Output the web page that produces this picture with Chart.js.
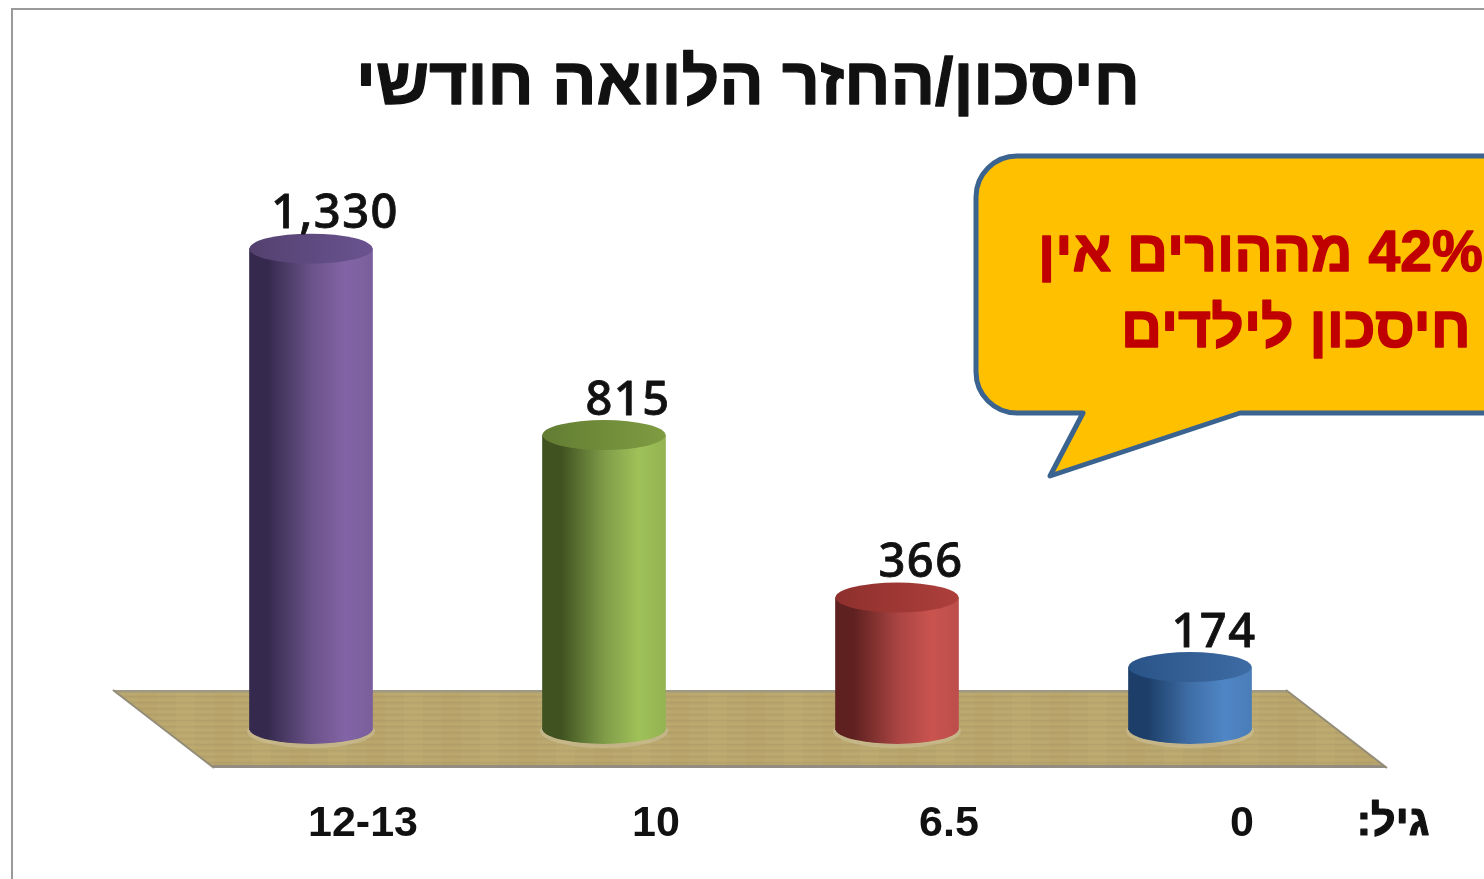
<!DOCTYPE html>
<html lang="he"><head><meta charset="utf-8">
<style>html,body{margin:0;padding:0;background:#fff;overflow:hidden}#w{width:1484px;height:879px;position:relative}</style>
<script src="https://cdn.jsdelivr.net/npm/chart.js@4/dist/chart.umd.min.js"></script>
</head><body><div id="w"><canvas id="c" width="1484" height="879"></canvas></div>
<script>
const titleText = "חיסכון/החזר הלוואה חודשי";
const categories = ["12-13", "10", "6.5", "0"];
const savings = [1330, 815, 366, 174];
const valueLabels = ["1,330", "815", "366", "174"];
const axisCaption = "גיל:";
const calloutLines = ["42% מההורים אין", "חיסכון לילדים"];
const shades = [
  {dark:"#352a4e", mid:"#6a5288", light:"#8264a6", end:"#7a5f9c", top1:"#54416f", top2:"#6a5390"},
  {dark:"#3f5220", mid:"#7f9b48", light:"#9fc158", end:"#94b353", top1:"#627d32", top2:"#7f9c42"},
  {dark:"#5f2120", mid:"#a84442", light:"#c9534f", end:"#bd4e4b", top1:"#8e302d", top2:"#ad3f3b"},
  {dark:"#1c3e68", mid:"#3f6ea6", light:"#4f86c6", end:"#4a7db8", top1:"#2a5488", top2:"#3d6ba3"}
];
const FONT = "'Liberation Sans', Arial, sans-serif";
const RY = 15;

function barGradient(chart, i){
  const x = chart.scales.x ? chart.scales.x.getPixelForValue(i) : NaN, hw = 61.5;
  const s = shades[i];
  if(!isFinite(x)) return s.mid;
  const g = chart.ctx.createLinearGradient(x-hw,0,x+hw,0);
  g.addColorStop(0,s.dark); g.addColorStop(0.15,s.dark); g.addColorStop(0.5,s.mid);
  g.addColorStop(0.78,s.light); g.addColorStop(1,s.end);
  return g;
}

function heavyText(c, text, x, y, w){
  c.lineWidth = w; c.lineJoin = "round"; c.strokeStyle = c.fillStyle;
  c.strokeText(text, x, y); c.fillText(text, x, y);
}

const scenery = {
  id:"scenery",
  afterLayout(chart){
    if(chart.titleBlock){ chart.titleBlock.left -= 2.5; chart.titleBlock.right -= 2.5; }
  },
  beforeDraw(chart){
    const c = chart.ctx;
    c.save();
    c.fillStyle="#fff"; c.fillRect(0,0,1484,879);
    c.strokeStyle="#9a9a9a"; c.lineWidth=2;
    c.beginPath(); c.moveTo(12,880); c.lineTo(12,9); c.lineTo(1490,9); c.stroke();
    // floor
    c.beginPath(); c.moveTo(113,690); c.lineTo(1286,690); c.lineTo(1387,768); c.lineTo(214,768); c.closePath();
    c.fillStyle="#b8a66e"; c.fill();
    c.save(); c.clip();
    for(let y=690;y<768;y+=3){ c.fillStyle = (y%2)?"rgba(200,180,110,.28)":"rgba(150,125,85,.16)"; c.fillRect(100,y,1300,1.5); }
    for(let x=100;x<1400;x+=38){ c.fillStyle = (x%4)?"rgba(190,150,90,.10)":"rgba(215,200,130,.10)"; c.fillRect(x,690,19,78); }
    c.fillStyle="#a09a84"; c.fillRect(100,690,1300,2.5);
    c.fillStyle="#938c80"; c.fillRect(100,765,1300,3);
    c.restore();
    c.strokeStyle="#938c78"; c.lineWidth=2;
    c.beginPath(); c.moveTo(113,690); c.lineTo(214,768); c.moveTo(1286,690); c.lineTo(1387,768); c.stroke();
    c.restore();
  },
  beforeDatasetsDraw(chart){
    const c = chart.ctx, m = chart.getDatasetMeta(0);
    c.save();
    m.data.forEach((b,i)=>{
      c.beginPath(); c.ellipse(b.x, b.base+1, 64, RY+2, 0, 0, 7);
      c.fillStyle="rgba(215,205,175,.4)"; c.fill();
      c.beginPath(); c.ellipse(b.x, b.base-1, 61.5, RY, 0, 0, 7);
      c.fillStyle=barGradient(chart,i); c.fill();
    });
    c.restore();
  },
  afterDatasetsDraw(chart){
    const c = chart.ctx, m = chart.getDatasetMeta(0);
    c.save();
    m.data.forEach((b,i)=>{
      const s = shades[i];
      const g = c.createLinearGradient(b.x-61,0,b.x+61,0);
      g.addColorStop(0,s.top1); g.addColorStop(1,s.top2);
      c.beginPath(); c.ellipse(b.x, b.y, 61.5, RY, 0, 0, 7);
      c.fillStyle=g; c.fill();
      c.fillStyle="#111"; c.font="500 47px 'Noto Sans', "+FONT;
      c.letterSpacing="1.5px";
      c.textAlign="center"; c.textBaseline="alphabetic";
      heavyText(c, valueLabels[i], b.x+24, b.y-20.5, 0.8);
      c.letterSpacing="0px";
    });
    // axis caption
    c.direction="rtl"; c.textAlign="center";
    c.fillStyle="#111"; c.font="bold 43px "+FONT;
    heavyText(c, axisCaption, 1393, 835, 1.2);
    c.direction="ltr";
    // callout
    const L=976,T=156,B=413,R=1560,r=41;
    c.beginPath();
    c.moveTo(L+r,T); c.lineTo(R,T); c.lineTo(R,B); c.lineTo(1240,B); c.lineTo(1050,476); c.lineTo(1083,B);
    c.lineTo(L+r,B); c.arcTo(L,B,L,B-r,r); c.lineTo(L,T+r); c.arcTo(L,T,L+r,T,r); c.closePath();
    c.fillStyle="#FFC000"; c.fill();
    c.strokeStyle="#3B6390"; c.lineWidth=5; c.lineJoin="round"; c.stroke();
    c.fillStyle="#C00000"; c.font="bold 57px "+FONT; c.direction="rtl"; c.textAlign="left";
    heavyText(c, calloutLines[0], 1038, 271, 1.4);
    heavyText(c, calloutLines[1], 1121, 347, 1.4);
    c.restore();
  },
  afterDraw(chart){
    const c = chart.ctx, t = chart.titleBlock;
    c.save();
    c.font="bold 66px "+FONT; c.textAlign="center"; c.textBaseline="middle";
    c.strokeStyle="#111"; c.lineWidth=1.3; c.lineJoin="round";
    c.strokeText(titleText, (t.left+t.right)/2, t.top+46+39.6);
    c.restore();
  }
};

new Chart(document.getElementById("c"),{
  type:"bar",
  data:{labels:categories,datasets:[{
    data:savings,
    backgroundColor:(ctx)=> ctx.dataIndex!==undefined ? barGradient(ctx.chart,ctx.dataIndex) : "#888",
    borderWidth:0, barThickness:123
  }]},
  plugins:[scenery],
  options:{
    responsive:false, animation:false, devicePixelRatio:1,
    layout:{padding:{left:164.5,right:147.5,top:0,bottom:0}},
    plugins:{
      legend:{display:false}, tooltip:{enabled:false},
      title:{display:true,text:titleText,color:"#111",
        font:{family:FONT,size:66,weight:"bold",lineHeight:1.2},
        padding:{top:46,bottom:3}}
    },
    scales:{
      x:{grid:{display:false},border:{display:false},
        afterFit:(s)=>{s.height=149;},
        ticks:{color:"#111",font:{family:FONT,size:43,weight:"bold"},padding:60,labelOffset:52,maxRotation:0,autoSkip:false}},
      y:{display:false,min:0,max:1663}
    }
  }
});
</script></body></html>
